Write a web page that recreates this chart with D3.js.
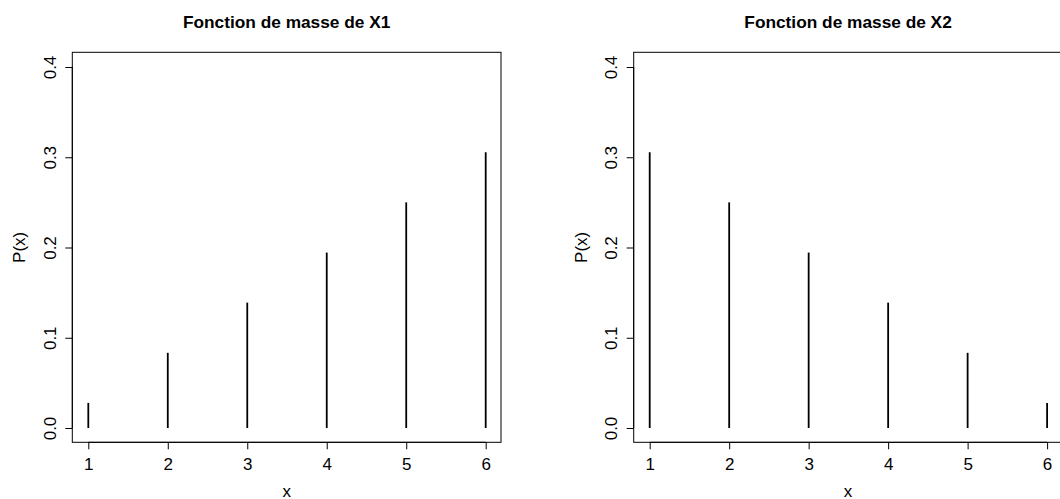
<!DOCTYPE html>
<html>
<head>
<meta charset="utf-8">
<script src="https://d3js.org/d3.v7.min.js"></script>
<style>
  body { margin: 0; background: white; }
  text { font-family: 'Liberation Sans', Arial, sans-serif; fill: black; }
</style>
</head>
<body>
<div id="chart"></div>
<script>
// data
var xValues = [1, 2, 3, 4, 5, 6];
var pX1 = [0.0278, 0.0833, 0.1389, 0.1944, 0.25, 0.3056];
var pX2 = [0.3056, 0.25, 0.1944, 0.1389, 0.0833, 0.0278];
var titles = ["Fonction de masse de X1", "Fonction de masse de X2"];
var yTicks = [0, 0.1, 0.2, 0.3, 0.4];

var W = 1060, H = 499;
var svg = d3.select("#chart").append("svg")
  .attr("width", W).attr("height", H);

var panels = [
  { left: 72.3, values: pX1, title: titles[0] },
  { left: 633.7, values: pX2, title: titles[1] }
];
var boxW = 428.7, boxTop = 52.3, boxBottom = 442.3;
var fontFam = "'Liberation Sans', Arial, sans-serif";
var axisFont = 17;

panels.forEach(function (p) {
  var g = svg.append("g");
  var x = d3.scaleLinear().domain([1, 6]).range([p.left + 16, p.left + 413.4]);
  var y = d3.scaleLinear().domain([0, 0.4]).range([428, 67]);

  // spikes
  g.selectAll(".spike").data(xValues).enter().append("line")
    .attr("x1", function (d) { return x(d); })
    .attr("x2", function (d) { return x(d); })
    .attr("y1", y(0))
    .attr("y2", function (d, i) { return y(p.values[i]); })
    .attr("stroke", "black").attr("stroke-width", 1.8);

  // box
  g.append("rect")
    .attr("x", p.left).attr("y", boxTop)
    .attr("width", boxW).attr("height", boxBottom - boxTop)
    .attr("fill", "none").attr("stroke", "black").attr("stroke-width", 1);

  // x axis
  var xa = g.append("g")
    .attr("transform", "translate(0," + boxBottom + ")")
    .call(d3.axisBottom(x).tickValues(xValues).tickFormat(d3.format("d")).tickSize(7))
    .attr("font-size", axisFont).attr("font-family", fontFam);
  xa.select(".domain").attr("d", "M" + x(1) + ",0H" + x(6));
  xa.selectAll(".tick text").attr("y", 27.7).attr("dy", 0);

  // y axis
  var ya = g.append("g")
    .attr("transform", "translate(" + p.left + ",0)")
    .call(d3.axisLeft(y).tickValues(yTicks).tickFormat(d3.format(".1f")).tickSize(7))
    .attr("font-size", axisFont).attr("font-family", fontFam);
  ya.select(".domain").attr("d", "M0," + y(0) + "V" + y(0.4));
  ya.selectAll(".tick text")
    .attr("transform", "rotate(-90)")
    .attr("x", 0).attr("y", -16.3)
    .attr("dy", 0)
    .style("text-anchor", "middle");

  // title
  g.append("text")
    .attr("x", p.left + boxW / 2).attr("y", 28)
    .attr("font-size", 17.3).attr("font-weight", "bold")
    .attr("text-anchor", "middle").text(p.title);

  // axis labels
  g.append("text")
    .attr("x", p.left + boxW / 2).attr("y", 496.5)
    .attr("font-size", axisFont)
    .attr("text-anchor", "middle").text("x");
  g.append("text")
    .attr("transform", "translate(" + (p.left - 47) + "," + ((boxTop + boxBottom) / 2) + ") rotate(-90)")
    .attr("font-size", axisFont)
    .attr("text-anchor", "middle").text("P(x)");
});
</script>
</body>
</html>
